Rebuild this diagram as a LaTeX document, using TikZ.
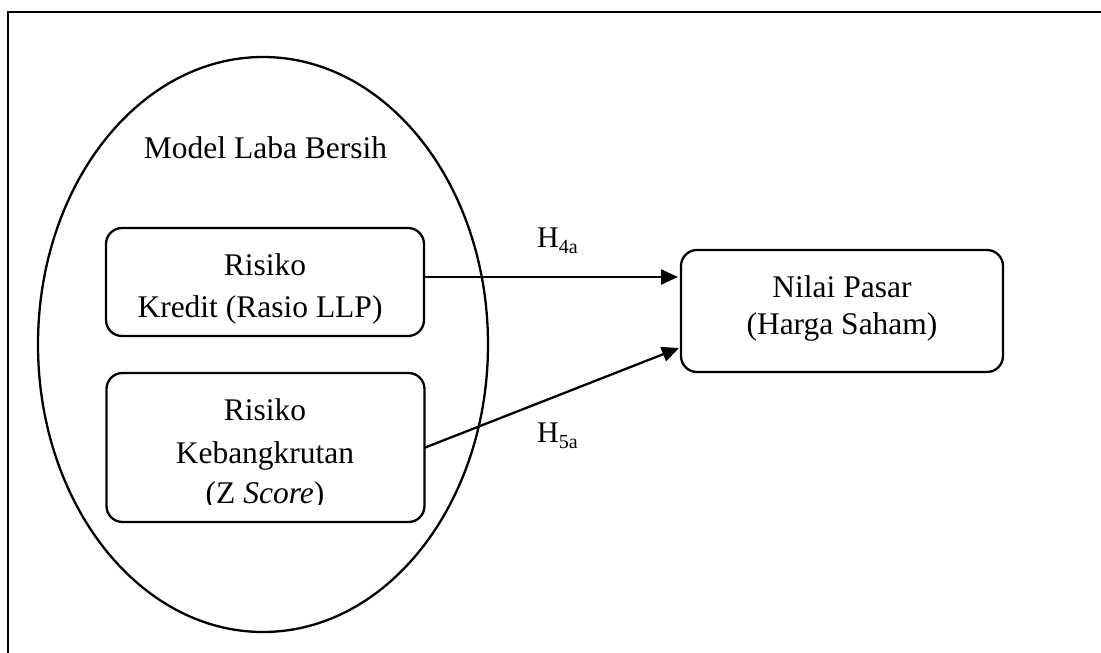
\documentclass[tikz,border=0pt]{standalone}
\usepackage{fontspec}
\setmainfont{Liberation Serif}
\usetikzlibrary{shapes.geometric,arrows.meta}
\tikzset{
  lw/.style={line width=2.3pt},
  boxst/.style={draw, lw, rounded corners=16pt, inner sep=0pt},
  txt/.style={font=\fontsize{31.5}{40}\selectfont, anchor=base, inner sep=0pt},
  hlab/.style={font=\fontsize{30}{36}\selectfont, anchor=base west, inner sep=0pt},
  conn/.style={lw, -{Triangle[length=17pt,width=15pt]}}
}
\newcommand{\hsub}[1]{H\raisebox{-6.5pt}{\fontsize{20}{20}\selectfont #1}}
\begin{document}
\begin{tikzpicture}[x=1pt,y=-1pt]
\useasboundingbox (0,0) rectangle (1101,653);
% outer frame (only top and left edges visible)
\coordinate (ftr) at (1101,12);
\coordinate (ftl) at (8,12);
\coordinate (fbl) at (8,653);
\draw[line width=2.5pt] (ftr) -- (ftl) -- (fbl);
% ellipse
\node[draw, lw, ellipse, minimum width=450pt, minimum height=575pt, inner sep=0pt] (ell) at (263,344.5) {};
\node[txt] (title) at (265.5,158) {Model Laba Bersih};
% box 1
\node[boxst, minimum width=318pt, minimum height=108pt] (b1) at (265,282) {};
\node[txt] (b1a) at (265,275) {Risiko};
\node[txt] (b1b) at (260,317) {Kredit (Rasio LLP)};
% box 2
\node[boxst, minimum width=318pt, minimum height=149pt] (b2) at (265.5,447.5) {};
\node[txt] (b2a) at (265,420) {Risiko};
\node[txt] (b2b) at (265,463) {Kebangkrutan};
\begin{scope}
\clip (0,0) rectangle (1101,504);
\node[txt] (b2c) at (265,503.5) {(Z \textit{Score})};
\end{scope}
% box 3
\node[boxst, minimum width=322pt, minimum height=122pt] (b3) at (842,311) {};
\node[txt] (b3a) at (842,297) {Nilai Pasar};
\node[txt] (b3b) at (842,334) {(Harga Saham)};
% connectors
\coordinate (t1) at (678,277);
\coordinate (t2) at (679,348);
\draw[conn] (b1.east |- t1) -- (t1);
\coordinate (s2) at (424,448);
\draw[conn] (s2) -- (t2);
% labels
\node[hlab] (h4) at (537,247) {\hsub{4a}};
\node[hlab] (h5) at (537,442) {\hsub{5a}};
\end{tikzpicture}
\end{document}
